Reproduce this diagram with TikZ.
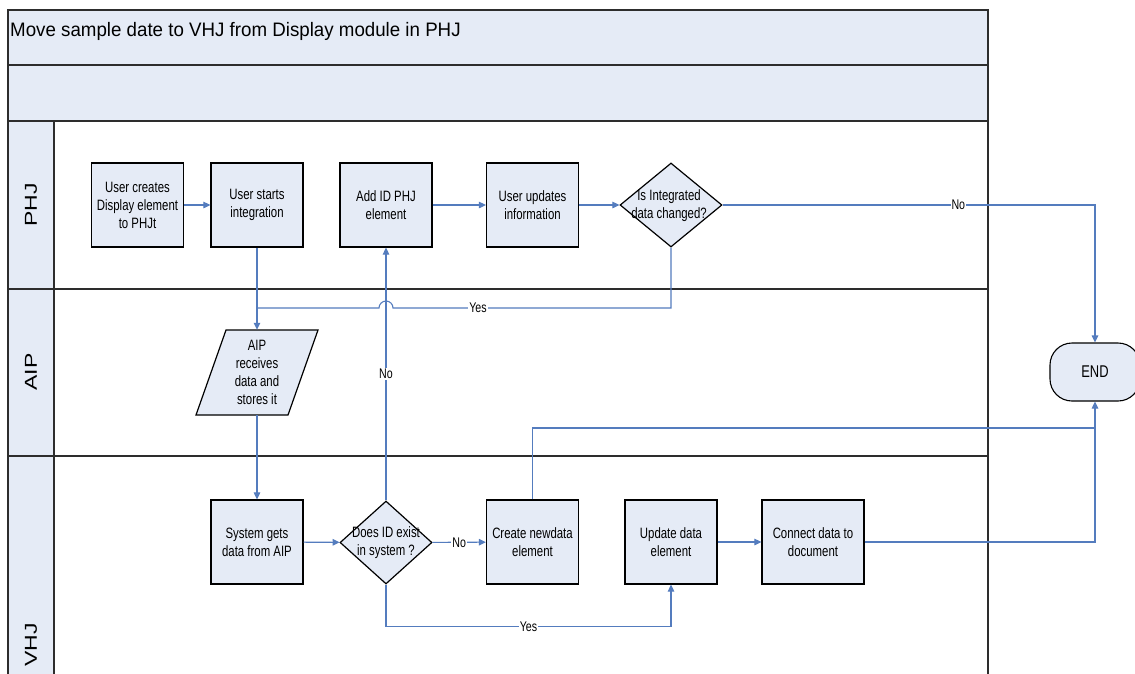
\documentclass[tikz,border=0pt]{standalone}
\usepackage{fontspec}
\setmainfont{Liberation Sans}
\newfontfamily\boxfont[FakeStretch=0.76]{Liberation Sans}
\newfontfamily\headfont[FakeStretch=0.96]{Liberation Sans}
\usetikzlibrary{arrows.meta,shapes.geometric,calc}

\definecolor{paneblue}{RGB}{229,235,246}
\definecolor{flowblue}{RGB}{84,124,190}
\definecolor{laneline}{RGB}{45,45,45}

\newcommand\lanetext[1]{\scalebox{0.75}[1]{\rotatebox{90}{#1}}}

\tikzset{
  boxtxt/.style={align=center, font=\boxfont\fontsize{15}{18}\selectfont},
  proc/.style={boxtxt, draw=black, line width=1.2pt, fill=paneblue,
    minimum width=92, minimum height=84, inner sep=1pt},
  decision/.style={diamond, draw=black, line width=1.2pt, fill=paneblue,
    inner sep=0pt},
  dtext/.style={boxtxt, inner sep=0pt},
  terminal/.style={boxtxt, draw=black, line width=1.1pt, fill=paneblue,
    rounded corners=22pt, minimum width=90, minimum height=58,
    font=\boxfont\fontsize{17}{20}\selectfont},
  lanelbl/.style={inner sep=0pt, font=\fontsize{23}{23}\selectfont},
  lanerule/.style={draw=laneline, line width=1.4pt},
  link/.style={draw=flowblue, line width=1.1pt},
  flow/.style={link, -{Triangle[length=7pt,width=6.5pt]}},
  lbl/.style={fill=white, inner sep=1pt, text=black,
    font=\boxfont\fontsize{14}{16}\selectfont},
}

\begin{document}
\begin{tikzpicture}[x=1pt,y=-1pt]
\useasboundingbox (0,0) rectangle (1135,673);
\clip (0,0) rectangle (1135,673);
\fill[white] (0,0) rectangle (1135,673);

% swimlane frame
\fill[paneblue] (8,10) rectangle (988,121);
\fill[paneblue] (8,121) rectangle (54,700);
\path[lanerule] (8,700) -- (8,10) -- (988,10) -- (988,700);
\path[lanerule] (8,65) -- (988,65);
\path[lanerule] (8,121) -- (988,121);
\path[lanerule] (8,289) -- (988,289);
\path[lanerule] (8,456) -- (988,456);
\path[lanerule] (54,121) -- (54,700);

\node[anchor=base west, inner sep=0pt, font=\headfont\fontsize{19.5}{24}\selectfont]
  (title) at (10,36) {Move sample date to VHJ from Display module in PHJ};

\node[lanelbl] (lanephj) at (31,205) {\lanetext{PHJ}};
\node[lanelbl] (laneaip) at (31,372) {\lanetext{AIP}};
\node[lanelbl] (lanevhj) at (31,645) {\lanetext{VHJ}};

% PHJ lane
\node[proc] (create)  at (137.5,205) {User creates\\Display element\\to PHJt};
\node[proc] (start)   at (257,205)   {User starts\\integration};
\node[proc] (addid)   at (386,205)   {Add ID PHJ\\element};
\node[proc] (updinfo) at (532.5,205) {User updates\\information};
\node[decision, minimum width=102, minimum height=84] (changed) at (671,205) {};
\node[dtext] (changedtxt) at (669,205.5) {Is Integrated\\data changed?};

% AIP lane
\node[boxtxt, minimum width=62, minimum height=85, inner sep=0pt] (receive) at (257,372.5) {};
\path[draw=black, line width=1.2pt, fill=paneblue]
  ($(receive.center)+(-31,-42.5)$) -- ($(receive.center)+(61,-42.5)$)
  -- ($(receive.center)+(31,42.5)$) -- ($(receive.center)+(-61,42.5)$) -- cycle;
\node[boxtxt, inner sep=0pt] (receivetxt) at (receive.center) {AIP\\receives\\data and\\stores it};

% VHJ lane
\node[proc] (sysget)  at (257,542) {System gets\\data from AIP};
\node[decision, minimum width=92, minimum height=83] (exists) at (386,542.5) {};
\node[dtext] (existstxt) at (386,542.5) {Does ID exist\\in system ?};
\node[proc] (newdata) at (532.5,542) {Create newdata\\element};
\node[proc] (upddata) at (671,542)   {Update data\\element};
\node[proc, minimum width=102] (connect) at (813,542) {Connect data to\\document};

% terminator
\node[terminal] (finish) at (1095,372) {END};

\coordinate (yesjoin) at (257,308);
\coordinate (hop) at (386,308);
\coordinate (endjoin) at (1095,428);

% connectors
\draw[flow] (create) -- (start);
\draw[flow] (addid) -- (updinfo);
\draw[flow] (updinfo) -- (changed);
\draw[flow] (start.south) -- (receive.north);
\draw[flow] (receive.south) -- (sysget.north);
\draw[link] (changed.south) |- ($(hop)+(7,0)$)
  arc[start angle=0, end angle=-180, radius=7] -- (yesjoin);
\node[lbl] (yeslbl1) at (478,308) {Yes};
\draw[flow] (changed.east) -- node[lbl, pos=0.633] (nolbl1) {No} (changed.east -| finish.north) -- (finish.north);
\draw[flow] (exists.north) -- node[lbl] (nolbl2) {No} (addid.south);
\draw[flow] (sysget) -- (exists);
\draw[flow] (exists) -- node[lbl] (nolbl3) {No} (newdata);
\draw[flow] (exists.south) -- ++(0,42) -| node[lbl, pos=0.25] (yeslbl2) {Yes} (upddata.south);
\draw[flow] (upddata) -- (connect);
\draw[flow] (newdata.north) |- (endjoin) -- (finish.south);
\draw[link] (connect.east) -| (endjoin);
\end{tikzpicture}
\end{document}
